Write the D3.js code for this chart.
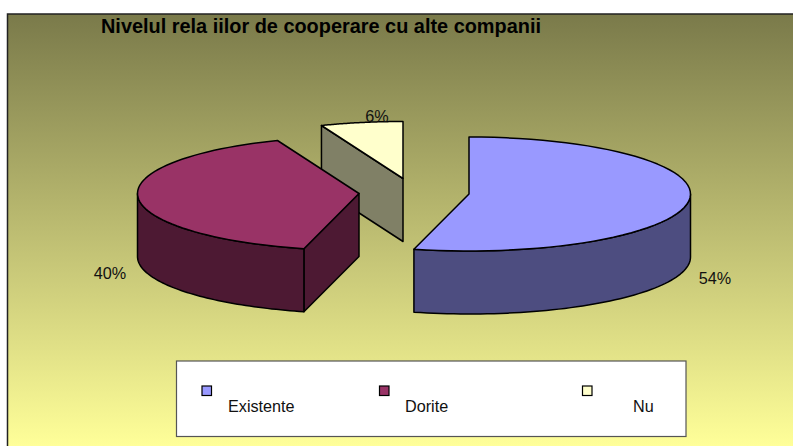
<!DOCTYPE html>
<html>
<head>
<meta charset="utf-8">
<script src="https://cdn.jsdelivr.net/npm/d3@7"></script>
<style>
  html, body { margin: 0; padding: 0; background: #fff; }
  svg { display: block; font-family: "Liberation Sans", Arial, sans-serif; }
</style>
</head>
<body>
<script>
var width = 793, height = 446;

var categories = ["Existente", "Dorite", "Nu"];
var values = [54, 40, 6];
var labels = ["54%", "40%", "6%"];
var topColors = ["#9999ff", "#993366", "#ffffcc"];
var sideColors = ["#4d4d80", "#4d1933", "#808066"];

// exploded slice centres, ellipse size and extrusion
var centers = [[469, 194], [359, 193.5], [403, 178.5]];
var labelPos = [[715, 284], [110, 279], [377, 122]];
var legendSwatchX = [202, 379.5, 582.5];
var legendTextX = [228, 405, 633];
var rx = 221.5, ry = 57, depth = 63;

var svg = d3.select("body").append("svg")
  .attr("width", width)
  .attr("height", height);

var grad = svg.append("defs").append("linearGradient")
  .attr("id", "bg")
  .attr("x1", 0).attr("y1", 0).attr("x2", 0).attr("y2", 1);
grad.append("stop").attr("offset", 0).attr("stop-color", "#7a7a4a");
grad.append("stop").attr("offset", 0.97).attr("stop-color", "#ffff99");

svg.append("rect")
  .attr("x", 7.5).attr("y", 14)
  .attr("width", width).attr("height", height)
  .attr("fill", "url(#bg)")
  .attr("stroke", "#222")
  .attr("stroke-width", 1.5);

svg.append("text")
  .attr("x", 101).attr("y", 32.5)
  .attr("font-size", 19.9).attr("font-weight", "bold")
  .attr("fill", "#000")
  .text("Nivelul rela iilor de cooperare cu alte companii");

var pie = d3.pie().sort(null).value(function(d) { return d; });
var arcs = pie(values);

var line = d3.line();

// point on the ellipse at a pie angle (0 = 12 o'clock, clockwise)
var pt = function(i, a, dy) {
  return [centers[i][0] + rx * Math.sin(a), centers[i][1] - ry * Math.cos(a) + (dy || 0)];
}; // end pt

var rim = function(i, a0, a1, dy) {
  return d3.range(0, 61).map(function(k) {
    return pt(i, a0 + (a1 - a0) * k / 60, dy);
  });
}; // end rim

var drawPoly = function(points, fill) {
  svg.append("path")
    .attr("d", line(points) + "Z")
    .attr("fill", fill)
    .attr("stroke", "#000")
    .attr("stroke-width", 1.5)
    .attr("stroke-linejoin", "round");
}; // end drawPoly

// back to front: Nu, Dorite, Existente
[2, 1, 0].forEach(function(i) {
  var d = arcs[i];
  var c = centers[i];
  var a0 = d.startAngle, a1 = d.endAngle;

  if (i === 2) {
    // only the cut face on the left is visible
    var p = pt(i, a0);
    drawPoly([p, c, [c[0], c[1] + depth], [p[0], p[1] + depth]], sideColors[i]);
  }
  if (i === 1) {
    var q = pt(i, a0);
    drawPoly([c, q, [q[0], q[1] + depth], [c[0], c[1] + depth]], sideColors[i]);
    var outer = rim(i, a0, 1.5 * Math.PI);
    drawPoly(outer.concat(rim(i, 1.5 * Math.PI, a0, depth)), sideColors[i]);
  }
  if (i === 0) {
    var outer0 = rim(i, 0.5 * Math.PI, a1);
    drawPoly(outer0.concat(rim(i, a1, 0.5 * Math.PI, depth)), sideColors[i]);
  }

  drawPoly([c].concat(rim(i, a0, a1)), topColors[i]);
});

labels.forEach(function(t, i) {
  svg.append("text")
    .attr("x", labelPos[i][0]).attr("y", labelPos[i][1])
    .attr("text-anchor", "middle")
    .attr("font-size", 16.2)
    .attr("fill", "#111")
    .text(t);
});

// legend
svg.append("rect")
  .attr("x", 176.5).attr("y", 361)
  .attr("width", 509.5).attr("height", 75.5)
  .attr("fill", "#fff")
  .attr("stroke", "#555")
  .attr("stroke-width", 1.2);

categories.forEach(function(t, i) {
  svg.append("rect")
    .attr("x", legendSwatchX[i]).attr("y", 386)
    .attr("width", 9.5).attr("height", 9.5)
    .attr("fill", topColors[i])
    .attr("stroke", "#000")
    .attr("stroke-width", 1.2);
  svg.append("text")
    .attr("x", legendTextX[i]).attr("y", 412)
    .attr("font-size", 16.2)
    .attr("fill", "#111")
    .text(t);
});
</script>
</body>
</html>
